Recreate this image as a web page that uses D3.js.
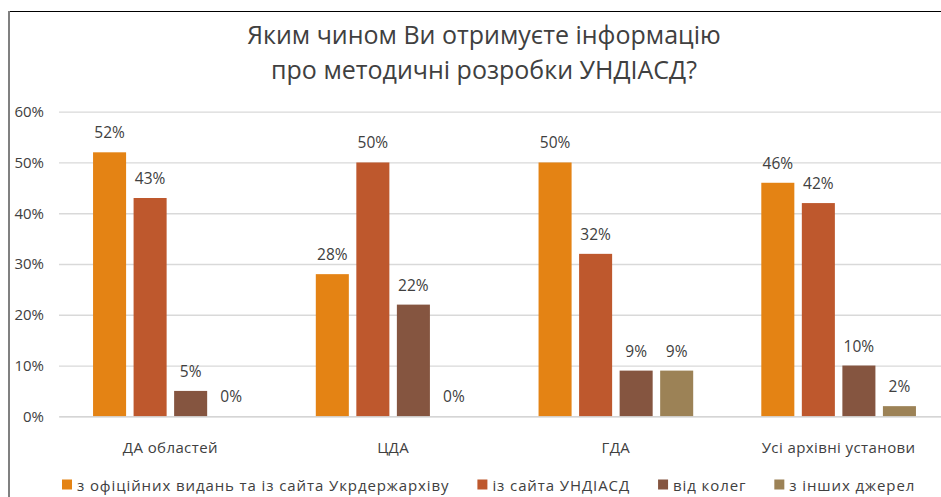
<!DOCTYPE html>
<html>
<head>
<meta charset="utf-8">
<script src="https://cdn.jsdelivr.net/npm/d3@7"></script>
<style>
  body { margin: 0; background: #fff; }
  svg { display: block; }
  text { font-family: "Open Sans", "Noto Sans", sans-serif; fill: #404040; }
</style>
</head>
<body>
<svg id="chart" width="941" height="497"></svg>
<script>
// chart values
const categories = ["ДА областей", "ЦДА", "ГДА", "Усі архівні установи"];
const seriesNames = [
  "з офіційних видань та із сайта Укрдержархіву",
  "із сайта УНДІАСД",
  "від колег",
  "з інших джерел"
];
const officialValues = [0.52, 0.28, 0.50, 0.46];
const siteValues = [0.43, 0.50, 0.32, 0.42];
const colleagueValues = [0.05, 0.22, 0.09, 0.10];
const otherValues = [0.00, 0.00, 0.09, 0.02];
const yTicks = [0, 0.1, 0.2, 0.3, 0.4, 0.5, 0.6];
const titleLines = ["Яким чином Ви отримуєте інформацію", "про методичні розробки УНДІАСД?"];

const colors = ["#E48314", "#BE582D", "#855540", "#9C8256"];
const seriesValues = [officialValues, siteValues, colleagueValues, otherValues];

const svg = d3.select("#chart");

// frame of the pasted chart (cropped on the right and bottom)
svg.append("line").attr("x1", 8).attr("x2", 941).attr("y1", 11.5).attr("y2", 11.5)
  .attr("stroke", "#000").attr("stroke-width", 1);
svg.append("line").attr("x1", 9).attr("x2", 9).attr("y1", 11).attr("y2", 497)
  .attr("stroke", "#808080").attr("stroke-width", 2);

// title
svg.append("g").selectAll("text")
  .data(titleLines)
  .enter().append("text")
  .attr("x", 484)
  .attr("y", (d, i) => 44 + i * 35)
  .attr("text-anchor", "middle")
  .style("font-size", "25px")
  .text(d => d);

const x0 = d3.scaleBand().domain(categories).range([59, 950]);
const x1 = d3.scaleBand().domain(d3.range(seriesNames.length))
  .range([0, x0.bandwidth()])
  .paddingInner(0.185)
  .paddingOuter(0.84);
const y = d3.scaleLinear().domain([0, 0.6]).range([416.3, 111.7]);

// gridlines
svg.append("g")
  .attr("transform", "translate(59,0)")
  .call(d3.axisLeft(y).tickValues(yTicks).tickSize(-891).tickFormat(""))
  .call(g => g.select(".domain").remove())
  .call(g => g.selectAll("line").attr("stroke", "#d9d9d9").attr("stroke-width", 1.3));

// y tick labels
svg.append("g")
  .attr("transform", "translate(44,0)")
  .call(d3.axisLeft(y).tickValues(yTicks).tickSize(0).tickPadding(0).tickFormat(d3.format(".0%")))
  .call(g => g.select(".domain").remove())
  .call(g => g.selectAll("text").style("font-size", "15px").attr("fill", "#404040"));

// bars and labels
const groups = svg.append("g").selectAll("g")
  .data(categories)
  .enter().append("g")
  .attr("transform", d => "translate(" + x0(d) + ",0)");

groups.selectAll("rect")
  .data((d, ci) => seriesValues.map((vals, si) => ({ si: si, v: vals[ci] })))
  .enter().append("rect")
  .attr("x", d => x1(d.si))
  .attr("width", x1.bandwidth())
  .attr("y", d => y(d.v))
  .attr("height", d => y(0) - y(d.v))
  .attr("fill", d => colors[d.si]);

groups.selectAll("text.lbl")
  .data((d, ci) => seriesValues.map((vals, si) => ({ si: si, v: vals[ci], ci: ci }))
    .filter(d => !(d.v === 0 && d.ci === 2)))
  .enter().append("text")
  .attr("class", "lbl")
  .attr("x", d => x1(d.si) + x1.bandwidth() / 2)
  .attr("y", d => y(d.v) - 14)
  .attr("text-anchor", "middle")
  .style("font-size", "15.5px")
  .text(d => d3.format(".0%")(d.v));

// category axis
svg.append("g")
  .attr("transform", "translate(0,416.3)")
  .call(d3.axisBottom(x0).tickSize(0).tickPadding(0))
  .call(g => g.select(".domain").attr("stroke", "#d0d0d0"))
  .call(g => g.selectAll("text").attr("dy", null).attr("y", 37)
    .style("font-size", "15px").style("letter-spacing", "0.4px").attr("fill", "#404040"));

// legend
const legend = svg.append("g");
let lx = 62;
seriesNames.forEach((name, i) => {
  legend.append("rect").attr("x", lx).attr("y", 479.5).attr("width", 10).attr("height", 10)
    .attr("fill", colors[i]);
  const t = legend.append("text").attr("x", lx + 15).attr("y", 490.5)
    .style("font-size", "15px").style("letter-spacing", "0.9px").text(name);
  lx += 15 + t.node().getComputedTextLength() + 28;
});
</script>
</body>
</html>
